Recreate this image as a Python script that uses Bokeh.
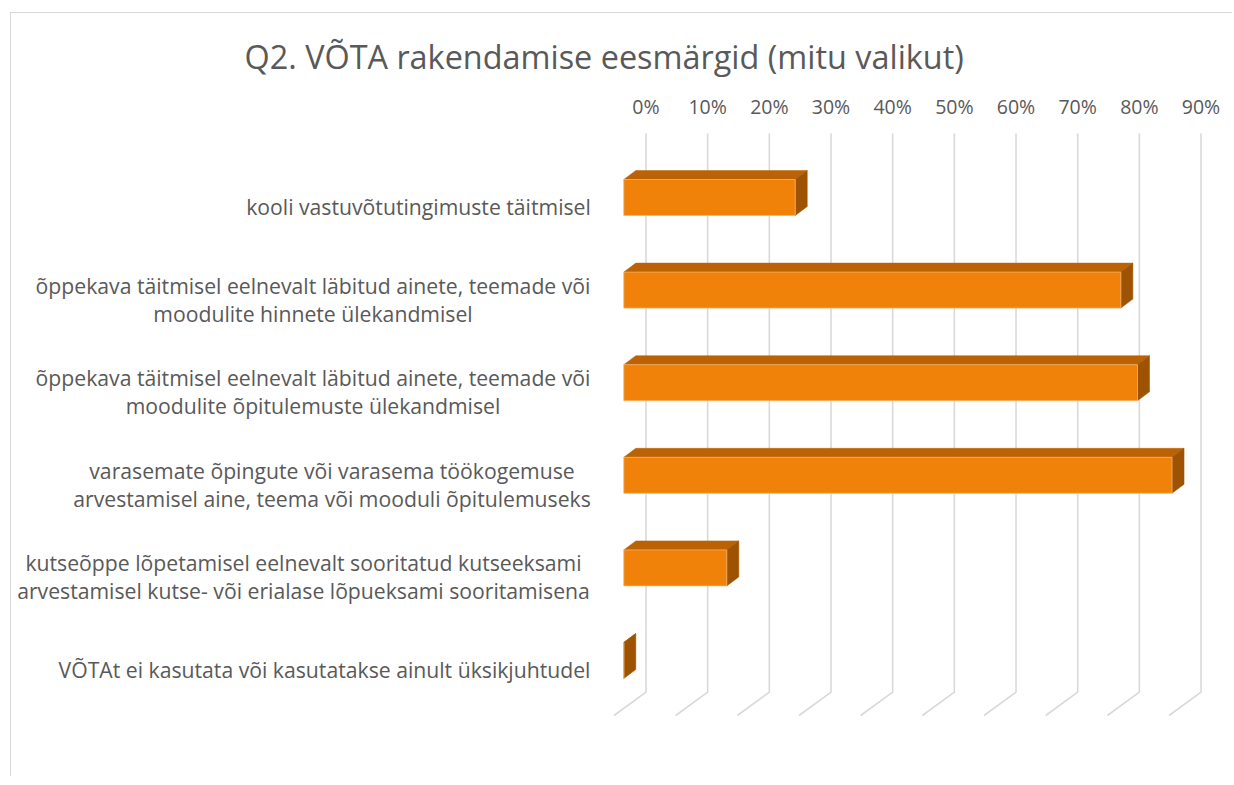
from bokeh.plotting import figure
from bokeh.models import Range1d, FixedTicker, ColumnDataSource
from bokeh.core.properties import value
from bokeh.embed import file_html
from bokeh.resources import INLINE

# ---------------- data ----------------
categories = [
    "kooli vastuvõtutingimuste täitmisel",
    "õppekava täitmisel eelnevalt läbitud ainete, teemade või\nmoodulite hinnete ülekandmisel",
    "õppekava täitmisel eelnevalt läbitud ainete, teemade või\nmoodulite õpitulemuste ülekandmisel",
    "varasemate õpingute või varasema töökogemuse\narvestamisel aine, teema või mooduli õpitulemuseks",
    "kutseõppe lõpetamisel eelnevalt sooritatud kutseeksami\narvestamisel kutse- või erialase lõpueksami sooritamisena",
    "VÕTAt ei kasutata või kasutatakse ainult üksikjuhtudel",
]
values = [27.8, 80.6, 83.3, 88.9, 16.7, 0.0]
ticks = [0, 10, 20, 30, 40, 50, 60, 70, 80, 90]
tick_labels = ["0%", "10%", "20%", "30%", "40%", "50%", "60%", "70%", "80%", "90%"]
title_text = "Q2. VÕTA rakendamise eesmärgid (mitu valikut)"

# ---------------- layout constants (pixels) ----------------
W, H = 1222, 764
OX, OY = 11, 13            # page position of canvas origin
FRAME_TOP = 114            # canvas px
PXX = 6.167                # px per percent
X0 = 645.5                 # page x of 0% on back wall
PXY = 92.6                 # px per category
Y0 = 197.0                 # page y of first bar front centre
FONT = "Open Sans"

TEXT = "#595959"
GRID = "#D9D9D9"
FRONT = "#F0820A"
TOP = "#BB6205"
SIDE = "#9E5303"

def xd(px_offset):
    return px_offset / PXX

def yd(px_offset):
    return px_offset / PXY

x_start = (OX - X0) / PXX
x_end = (OX + W - X0) / PXX
y_start = (OY + H - Y0) / PXY
y_end = (OY + FRAME_TOP - Y0) / PXY

p = figure(width=W, height=H, output_backend="svg", toolbar_location=None,
           x_range=Range1d(x_start, x_end), y_range=Range1d(y_start, y_end),
           x_axis_location="above", y_axis_location=None,
           min_border_left=0, min_border_right=0, min_border_bottom=0,
           min_border_top=FRAME_TOP)
p.styles = {"border-left": "1px solid #D9D9D9", "border-top": "1px solid #D9D9D9",
            "margin-left": "10px", "margin-top": "12px"}
p.outline_line_color = None
p.background_fill_color = "white"
p.border_fill_color = "white"
p.grid.visible = False

p.title.text = title_text
p.title.text_font = FONT
p.title.text_font_size = "32.4px"
p.title.text_font_style = "normal"
p.title.text_color = TEXT
p.title.align = "left"
p.title.offset = 233
p.title.standoff = 23

ax = p.xaxis[0]
ax.ticker = FixedTicker(ticks=ticks)
ax.major_label_overrides = {t: l for t, l in zip(ticks, tick_labels)}
ax.axis_line_color = None
ax.major_tick_line_color = None
ax.minor_tick_line_color = None
ax.major_label_text_font = FONT
ax.major_label_text_font_size = "19.5px"
ax.major_label_text_color = TEXT
ax.major_label_standoff = 2

# ---------------- gridlines with 3D floor ----------------
g_top = (133 - Y0) / PXY
g_back = (691.7 - Y0) / PXY
floor_dx = xd(32)
floor_dy = yd(23.3)
gx, gy = [], []
for t in ticks:
    gx.append([t - floor_dx, t, t])
    gy.append([g_back + floor_dy, g_back, g_top])
p.multi_line(gx, gy, line_color=GRID, line_width=1.6)

# ---------------- 3D bars ----------------
front_shift = xd(645.5 - 623.3)
half_h = yd(18)
ddx = xd(12)
ddy = yd(9)

fl, fr, ft, fb = [], [], [], []
top_xs, top_ys, side_xs, side_ys = [], [], [], []
for i, v in enumerate(values):
    L = -front_shift
    R = v - front_shift
    T = i - half_h
    B = i + half_h
    fl.append(L); fr.append(R); ft.append(T); fb.append(B)
    top_xs.append([L, R, R + ddx, L + ddx])
    top_ys.append([T, T, T - ddy, T - ddy])
    side_xs.append([R, R + ddx, R + ddx, R])
    side_ys.append([T, T - ddy, B - ddy, B])

p.patches(top_xs, top_ys, fill_color=TOP, line_color=TOP, line_width=0.5)
p.patches(side_xs, side_ys, fill_color=SIDE, line_color=SIDE, line_width=0.5)
front_src = ColumnDataSource(dict(left=fl, right=fr, top=ft, bottom=fb, v=values))
p.quad(left="left", right="right", top="top", bottom="bottom", source=front_src,
       fill_color=FRONT, line_color="#F6B26B", line_width=0.8)

# ---------------- category labels ----------------
label_center_px = [418, 312.5, 312.5, 331.5, 303, 324]
lab_src = ColumnDataSource(dict(
    x=[(c - X0) / PXX for c in label_center_px],
    y=[i + yd(9) for i in range(len(categories))],
    text=categories,
))
p.text(x="x", y="y", text="text", source=lab_src, text_align="center",
       text_baseline="middle", text_font=value(FONT), text_font_size=value("21.2px"),
       text_color=TEXT, text_line_height=0.97)

open("out.html", "w").write(file_html(p, INLINE))
